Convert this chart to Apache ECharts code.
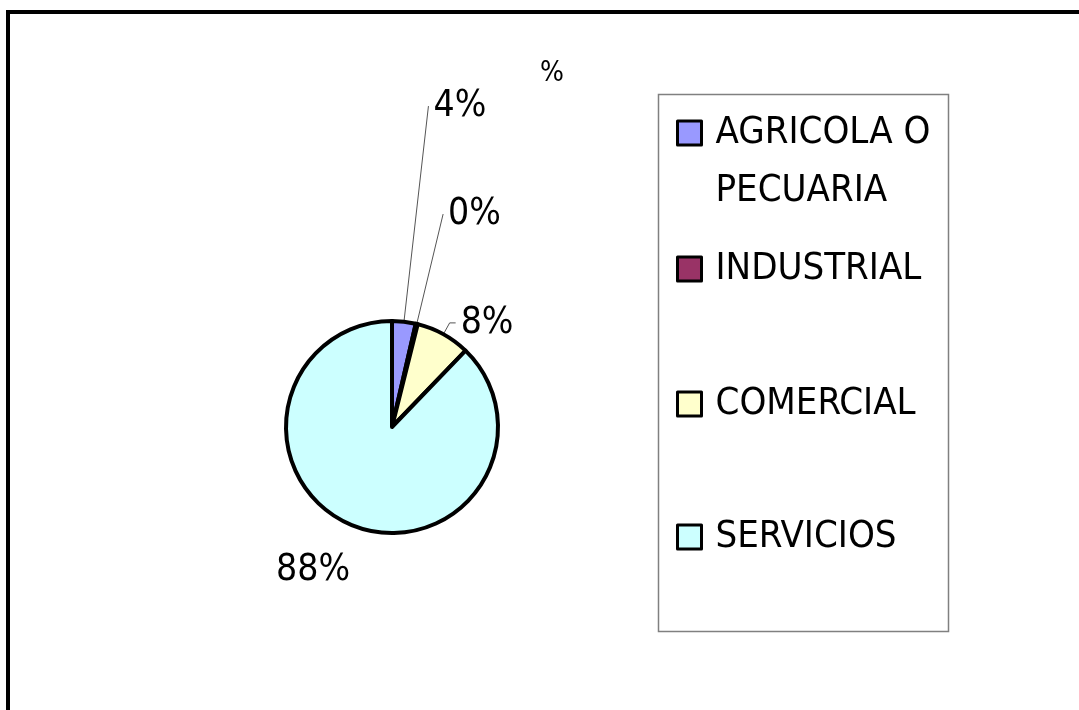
<!DOCTYPE html>
<html>
<head>
<meta charset="utf-8">
<script src="https://cdn.jsdelivr.net/npm/echarts@6/dist/echarts.min.js"></script>
<style>
html,body{margin:0;padding:0;background:#fff;}
#chart{width:1079px;height:710px;}
</style>
</head>
<body>
<div id="chart"></div>
<script>
// Data
var titleText = '%';
var categories = ['AGRICOLA O\nPECUARIA', 'INDUSTRIAL', 'COMERCIAL', 'SERVICIOS'];
var values = [3.6, 0.3, 8.3, 87.8];
var colors = ['#9999FF', '#993366', '#FFFFCC', '#CCFFFF'];

var FONT = '"DejaVu Sans Condensed", "Liberation Sans Narrow", "DejaVu Sans", sans-serif';

// leader line lengths per slice (layout only)
var lineLen = [217, 113, 13, 49];
var lineLen2 = [0, 0, 6, 0];
var showLine = [true, true, true, false];

var chart = echarts.init(document.getElementById('chart'), null, {renderer: 'canvas'});

var pieData = categories.map(function (c, i) {
  return {
    name: c,
    value: values[i],
    itemStyle: {color: colors[i]},
    labelLine: {show: showLine[i], length: lineLen[i], length2: lineLen2[i]}
  };
});

var legendTops = [46, 240, 375, 508];
var legends = categories.map(function (c, i) {
  return {
    data: [c],
    orient: 'vertical',
    left: 676,
    top: legendTops[i],
    padding: 0,
    icon: 'rect',
    itemWidth: 24,
    itemHeight: 24,
    selectedMode: false,
    formatter: i === 0 ? function (n) { return ' \n' + n; } : '{name}',
    itemStyle: {borderColor: '#000', borderWidth: 3},
    textStyle: {
      fontFamily: FONT,
      fontSize: 38,
      color: '#000',
      lineHeight: 58,
      padding: [0, 0, 0, 9]
    }
  };
});

chart.setOption({
  animation: false,
  backgroundColor: '#fff',
  title: {
    text: titleText,
    left: 540,
    top: 60,
    padding: 0,
    textStyle: {fontFamily: FONT, fontSize: 28, fontWeight: 'normal', color: '#000'}
  },
  legend: legends,
  graphic: [
    {
      type: 'rect',
      shape: {x: 8, y: 12, width: 1100, height: 720},
      style: {fill: 'none', stroke: '#000', lineWidth: 4},
      silent: true
    },
    {
      type: 'rect',
      shape: {x: 658.5, y: 94.5, width: 290, height: 537},
      style: {fill: 'none', stroke: '#808080', lineWidth: 1.5},
      silent: true,
      z: -1
    }
  ],
  series: [{
    type: 'pie',
    center: [392, 427],
    radius: [0, 106],
    startAngle: 90,
    clockwise: true,
    avoidLabelOverlap: false,
    itemStyle: {borderColor: '#000', borderWidth: 4},
    label: {
      show: true,
      position: 'outside',
      fontFamily: FONT,
      fontSize: 37,
      color: '#000',
      distanceToLabelLine: 5,
      formatter: function (p) { return Math.round(p.percent) + '%'; }
    },
    labelLine: {lineStyle: {color: '#555', width: 1}},
    labelLayout: function (p) { return p.dataIndex === 3 ? {dx: 21} : {}; },
    emphasis: {disabled: true},
    data: pieData
  }]
});
</script>
</body>
</html>
